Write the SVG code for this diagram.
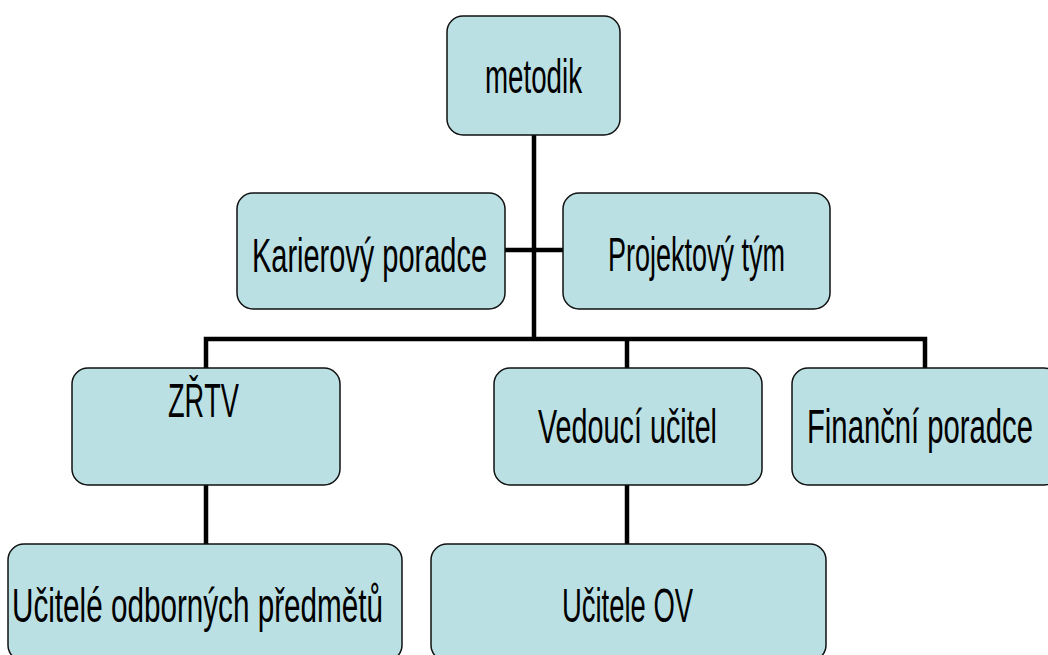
<svg xmlns="http://www.w3.org/2000/svg" width="1048" height="655" viewBox="0 0 1048 655">
<style>
.box{fill:#BBE0E3;stroke:#111;stroke-width:1.5}
.lbl{font-family:"Liberation Sans",Arial,sans-serif;font-size:48px;fill:#000}
.con{stroke:#000;stroke-width:4.5;fill:none}
</style>
<rect width="1048" height="655" fill="#fff"/>
<g id="connectors">
<line class="con" x1="534" y1="135" x2="534" y2="339"/>
<line class="con" x1="505" y1="250" x2="563" y2="250"/>
<polyline class="con" points="206,368 206,339 925,339 925,368"/>
<line class="con" x1="627" y1="339" x2="627" y2="368"/>
<line class="con" x1="206" y1="485" x2="206" y2="544"/>
<line class="con" x1="627" y1="485" x2="627" y2="544"/>
</g>
<g id="metodik">
<rect class="box" x="447" y="16" width="173" height="119" rx="16"/>
<text class="lbl" x="485" y="93" textLength="97" lengthAdjust="spacingAndGlyphs">metodik</text>
</g>
<g id="karierovy">
<rect class="box" x="237" y="193" width="268" height="116" rx="16"/>
<text class="lbl" x="252" y="272" textLength="235" lengthAdjust="spacingAndGlyphs">Karierový poradce</text>
</g>
<g id="projektovy">
<rect class="box" x="563" y="193" width="267" height="116" rx="16"/>
<text class="lbl" x="608" y="271" textLength="177" lengthAdjust="spacingAndGlyphs">Projektový tým</text>
</g>
<g id="zrtv">
<rect class="box" x="72" y="368" width="268" height="117" rx="16"/>
<text class="lbl" x="168" y="417" textLength="71" lengthAdjust="spacingAndGlyphs">ZŘTV</text>
</g>
<g id="vedouci">
<rect class="box" x="494" y="368" width="268" height="117" rx="16"/>
<text class="lbl" x="538" y="443" textLength="179" lengthAdjust="spacingAndGlyphs">Vedoucí učitel</text>
</g>
<g id="financni">
<rect class="box" x="792" y="368" width="268" height="117" rx="16"/>
<text class="lbl" x="807" y="443" textLength="226" lengthAdjust="spacingAndGlyphs">Finanční poradce</text>
</g>
<g id="ucitele-odbornych">
<rect class="box" x="8" y="544" width="394" height="117" rx="16"/>
<text class="lbl" x="12" y="622" textLength="371" lengthAdjust="spacingAndGlyphs">Učitelé odborných předmětů</text>
</g>
<g id="ucitele-ov">
<rect class="box" x="431" y="544" width="395" height="117" rx="16"/>
<text class="lbl" x="562" y="622" textLength="131" lengthAdjust="spacingAndGlyphs">Učitele OV</text>
</g>
</svg>
